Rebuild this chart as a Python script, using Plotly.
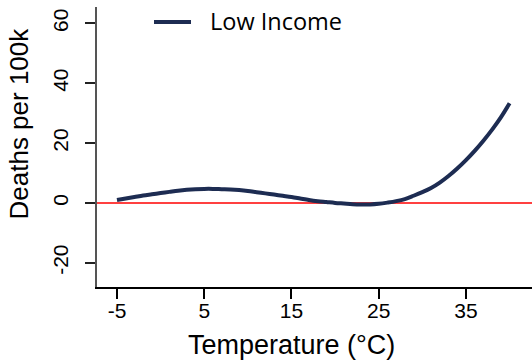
import plotly.graph_objects as go

# Data
temperature = [-5, -4, -3, -2, -1, 0, 1, 2, 3, 4, 5, 6, 7, 8, 9, 10, 11, 12, 13, 14,
               15, 16, 17, 18, 19, 20, 21, 22, 23, 24, 25, 26, 27, 28, 29, 30, 31, 32,
               33, 34, 35, 36, 37, 38, 39, 40]
deaths = [1.0, 1.5, 2.0, 2.5, 2.9, 3.3, 3.7, 4.1, 4.4, 4.6, 4.7, 4.7, 4.6, 4.5, 4.3, 4.0,
          3.6, 3.2, 2.8, 2.4, 2.0, 1.5, 1.0, 0.6, 0.3, 0.0, -0.2, -0.4, -0.5, -0.5, -0.3,
          0.1, 0.6, 1.3, 2.4, 3.6, 5.0, 6.8, 9.0, 11.5, 14.3, 17.4, 20.8, 24.5, 28.6, 33.3]
series_name = "Low Income"
x_ticks = [-5, 5, 15, 25, 35]
y_ticks = [-20, 0, 20, 40, 60]
x_title = "Temperature (°C)"
y_title = "Deaths per 100k"

W, H = 532, 364
ML, MR, MT, MB = 97, 0, 7, 77
PW, PH = W - ML - MR, H - MT - MB

def px_x(p):
    return (p - ML) / PW

def px_y(p):
    return (H - MB - p) / PH

AX_FONT = "Liberation Sans, Arial, sans-serif"
NAVY = "#1d2c52"

fig = go.Figure()
fig.add_trace(go.Scatter(
    x=temperature, y=deaths, mode="lines", name=series_name,
    line=dict(color=NAVY, width=4, shape="spline"), showlegend=False,
))

fig.update_layout(
    width=W, height=H,
    margin=dict(l=ML, r=MR, t=MT, b=MB, pad=0),
    paper_bgcolor="white", plot_bgcolor="white",
    showlegend=False,
    xaxis=dict(
        range=[-7.29, 42.57], tickvals=x_ticks, ticktext=[str(v) for v in x_ticks],
        showgrid=False, zeroline=False, showline=True, linecolor="#000000", linewidth=2,
        ticks="outside", ticklen=10, tickwidth=2, tickcolor="#000000",
        ticklabelstandoff=-6,
        tickfont=dict(family=AX_FONT, size=21, color="black"),
    ),
    yaxis=dict(
        range=[-28.1, 65.5], tickvals=y_ticks, ticktext=[str(v) for v in y_ticks],
        showgrid=False, zeroline=False, showline=True, linecolor="#555555", linewidth=2,
        ticks="outside", ticklen=10, tickwidth=2, tickcolor="#222222",
        tickangle=-90, ticklabelstandoff=9,
        tickfont=dict(family=AX_FONT, size=21, color="black"),
    ),
    shapes=[
        dict(type="line", xref="paper", yref="y", x0=0, x1=1, y0=0, y1=0,
             line=dict(color="#ff0000", width=1.5), layer="below"),
        dict(type="line", xref="paper", yref="paper",
             x0=px_x(154), x1=px_x(191), y0=px_y(22), y1=px_y(22),
             line=dict(color=NAVY, width=4)),
    ],
    annotations=[
        dict(text=series_name, xref="paper", yref="paper", x=px_x(208), y=px_y(21),
             xanchor="left", yanchor="middle", showarrow=False,
             font=dict(family="Open Sans, sans-serif", size=23.5, color="black")),
        dict(text=y_title, xref="paper", yref="paper", x=px_x(19), y=px_y(123.5),
             xanchor="center", yanchor="middle", textangle=-90, showarrow=False,
             font=dict(family=AX_FONT, size=26, color="black")),
        dict(text=x_title, xref="paper", yref="paper", x=px_x(291), y=px_y(345),
             xanchor="center", yanchor="middle", showarrow=False,
             font=dict(family=AX_FONT, size=27, color="black")),
    ],
)

fig.write_html("out.html")
